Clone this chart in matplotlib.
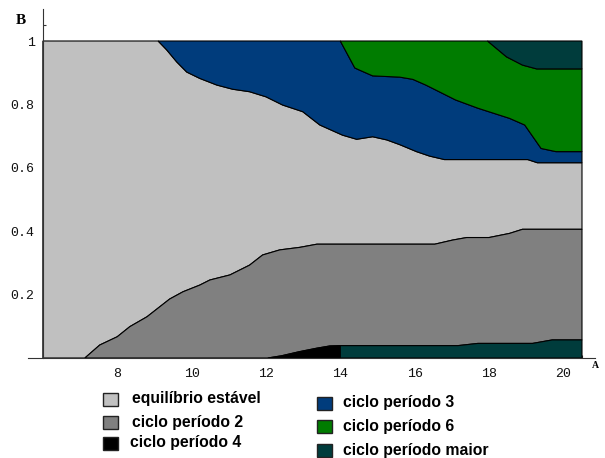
import matplotlib
matplotlib.use("Agg")
import matplotlib.pyplot as plt
from matplotlib.patches import Rectangle
import numpy as np

# ---------------- data (region boundaries) ----------------
# top of "ciclo período 4" (x<14) / bottom "ciclo período maior" (x>=14)
low_x = [12.05, 12.42, 12.9, 13.37, 13.72, 14.0, 17.16, 17.7, 19.17, 19.7, 20.5]
low_y = [0.0, 0.007, 0.02, 0.031, 0.038, 0.039, 0.039, 0.046, 0.046, 0.057, 0.057]

# top of "ciclo período 2"
p2_x = [7.13, 7.53, 8.0, 8.34, 8.8, 9.41, 9.77, 10.22, 10.49, 11.03, 11.56, 11.91,
        12.37, 12.91, 13.37, 16.54, 17.02, 17.4, 18.0, 18.55, 18.9, 20.5]
p2_y = [0.0, 0.041, 0.067, 0.099, 0.13, 0.186, 0.209, 0.23, 0.246, 0.262, 0.293, 0.325,
        0.341, 0.349, 0.359, 0.359, 0.372, 0.38, 0.38, 0.393, 0.406, 0.406]

# top of "equilíbrio estável"
st_x = [6.0, 9.1, 9.33, 9.6, 9.87, 10.22, 10.68, 11.1, 11.56, 12.0, 12.45, 12.99, 13.45,
        14.06, 14.44, 14.87, 15.25, 15.6, 16.05, 16.4, 16.8, 19.04, 19.3, 20.5]
st_y = [1.0, 1.0, 0.972, 0.934, 0.902, 0.882, 0.861, 0.848, 0.84, 0.824, 0.798, 0.777, 0.735,
        0.703, 0.69, 0.698, 0.688, 0.673, 0.651, 0.637, 0.626, 0.626, 0.616, 0.616]

# top of "ciclo período 3"
p3_x = [9.1, 14.0, 14.39, 14.5, 14.87, 15.6, 15.95, 16.3, 17.1, 17.7, 18.55, 18.96, 19.4, 19.8, 20.5]
p3_y = [1.0, 1.0, 0.915, 0.909, 0.89, 0.886, 0.879, 0.861, 0.814, 0.788, 0.756, 0.735, 0.661, 0.651, 0.651]

# top of "ciclo período 6"
p6_x = [14.0, 17.96, 18.47, 18.9, 19.28, 20.5]
p6_y = [1.0, 1.0, 0.95, 0.924, 0.912, 0.912]

x_major = [8, 10, 12, 14, 16, 18, 20]
y_major = [0.2, 0.4, 0.6, 0.8, 1.0]
y_labels = ["0.2", "0.4", "0.6", "0.8", "1"]

labels_left = ["equilíbrio estável", "ciclo período 2", "ciclo período 4"]
labels_right = ["ciclo período 3", "ciclo período 6", "ciclo período maior"]

c_stable = "#c0c0c0"
c_p2 = "#808080"
c_p4 = "#000000"
c_p3 = "#003c7c"
c_p6 = "#007c00"
c_long = "#003c3c"
colors_left = [c_stable, c_p2, c_p4]
colors_right = [c_p3, c_p6, c_long]

# ---------------- figure ----------------
W, H = 605, 458
fig = plt.figure(figsize=(W / 100, H / 100), dpi=100)
ax = fig.add_axes([28 / W, 1 - 358 / H, 567 / W, 348.7 / H])
ax.set_xlim(5.6, 20.85)
ax.set_ylim(0, 1.1)

i14 = low_x.index(14.0)
ec = dict(edgecolor="black", linewidth=0.8)

def poly(xs, ys, color):
    ax.fill(xs, ys, facecolor=color, zorder=2, **ec)

xmax = 20.5
# stable (light gray)
poly([6.0, 7.13] + p2_x + st_x[::-1],
     [0.0, 0.0] + p2_y + st_y[::-1], c_stable)
# period 2
poly(p2_x + low_x[::-1] + [7.13],
     p2_y + low_y[::-1] + [0.0], c_p2)
# period 4 (black)
poly(low_x[:i14 + 1] + [14.0], low_y[:i14 + 1] + [0.0], c_p4)
# longer period bottom
poly(low_x[i14:] + [xmax, 14.0], low_y[i14:] + [0.0, 0.0], c_long)
# period 3 (blue)
j = st_x.index(9.1)
poly(st_x[j:] + p3_x[::-1], st_y[j:] + p3_y[::-1], c_p3)
# period 6 (green)
k = p3_x.index(14.0)
poly(p3_x[k:] + p6_x[::-1], p3_y[k:] + p6_y[::-1], c_p6)
# longer period top
m = p6_x.index(17.96)
poly(p6_x[m:] + [xmax, 17.96], p6_y[m:] + [1.0, 1.0], c_long)

# axes like Mathematica
for s in ["top", "right"]:
    ax.spines[s].set_visible(False)
ax.spines["left"].set_position(("data", 6.0))
ax.spines["left"].set_bounds(0, 1.1)
ax.spines["left"].set_color("#333333")
ax.spines["bottom"].set_color("#333333")
ax.spines["left"].set_zorder(3)
ax.patch.set_visible(False)

ax.set_xticks(x_major)
ax.set_xticks([v for v in np.arange(6.5, 20.6, 0.5) if v not in x_major], minor=True)
ax.set_yticks(y_major)
ax.set_yticklabels(y_labels)
ax.set_yticks([v for v in np.arange(0.05, 1.08, 0.05) if round(v, 2) not in y_major], minor=True)
ax.tick_params(which="both", direction="in", color="#333333", width=0.8)
ax.tick_params(which="major", length=4)
ax.tick_params(which="minor", length=2.5)
ax.tick_params(axis="y", pad=6)
ax.tick_params(axis="x", pad=7)
for lab in ax.get_xticklabels() + ax.get_yticklabels():
    lab.set_fontfamily("Liberation Mono")
    lab.set_fontsize(9.5)
    lab.set_color("#111111")

fig.text(21 / W, 1 - 20 / H, "B", fontsize=11, fontweight="bold",
         family="Liberation Serif", ha="center", va="center")
fig.text(592 / W, 1 - 366 / H, "A", fontsize=7, fontweight="bold",
         family="Liberation Serif", ha="left", va="center")

# ---------------- legend ----------------
def legend_item(sx, cy, color, text, tx):
    w, h = 15, 13
    fig.add_artist(Rectangle((sx / W, 1 - (cy + h / 2) / H), w / W, h / H,
                             transform=fig.transFigure, facecolor=color,
                             edgecolor="#222222", linewidth=1.0))
    fig.text(tx / W, 1 - cy / H, text, fontsize=11.3, fontweight="bold",
             family="Liberation Sans", ha="left", va="center")

left_cy = [399, 422, 443]
left_tx = [132, 132, 130]
for cy, col, lab, tx in zip(left_cy, colors_left, labels_left, left_tx):
    legend_item(103, cy, col, lab, tx)
right_cy = [403, 426, 450]
for cy, col, lab in zip(right_cy, colors_right, labels_right):
    legend_item(317, cy, col, lab, 343)

fig.savefig("out.png", dpi=100)
